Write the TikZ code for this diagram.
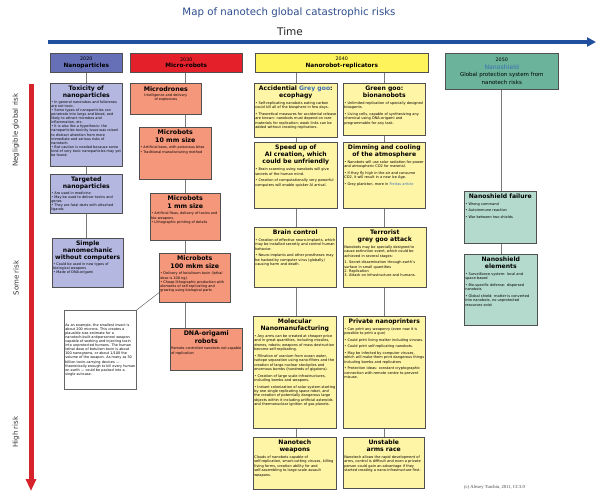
\documentclass[tikz,border=0pt]{standalone}
\usepackage{fontspec}
\setmainfont{DejaVu Sans}
\newfontfamily\serifcc{Liberation Serif}
\usetikzlibrary{arrows.meta,calc,shadows}

\definecolor{titleblue}{HTML}{2C4C8C}
\definecolor{arrowblue}{HTML}{1F4F9E}
\definecolor{riskred}{HTML}{D6222A}
\definecolor{hA}{HTML}{6670B6}
\definecolor{fA}{HTML}{B4B7E0}
\definecolor{hB}{HTML}{E4202B}
\definecolor{fB}{HTML}{F4977B}
\definecolor{hC}{HTML}{FFF35B}
\definecolor{fC}{HTML}{FFF5A6}
\definecolor{hD}{HTML}{6BB39A}
\definecolor{fD}{HTML}{B3DACC}
\definecolor{edge}{HTML}{505050}
\definecolor{linkgray}{HTML}{7A7A7A}
\definecolor{goo}{HTML}{3A6EB5}

\newcommand{\tsz}{\fontsize{6.1}{7.2}\selectfont\bfseries}
\newcommand{\tszb}{\fontsize{6.3}{7.8}\selectfont\bfseries}
\newcommand{\bsz}{\mdseries\fontsize{3.55}{4.4}\selectfont}
\newcommand{\bszs}{\mdseries\fontsize{3.45}{4.1}\selectfont}
\newcommand{\bul}{\par\vspace{2.2pt}\textbullet\ }
\newcommand{\bulc}{\par\textbullet\ }
% width, height, title, body
\newcommand{\cbox}[4]{\parbox[c][#2pt][t]{\dimexpr#1pt-2pt\relax}{\vspace*{2.5pt}\centering\tsz #3\par\vspace{2.5pt}\raggedright\bsz #4\par}}
\newcommand{\cboxs}[4]{\parbox[c][#2pt][t]{\dimexpr#1pt-2pt\relax}{\vspace*{2.5pt}\centering\tsz #3\par\vspace{1.5pt}\raggedright\bszs #4\par}}
\newcommand{\cboxb}[4]{\parbox[c][#2pt][t]{\dimexpr#1pt-2pt\relax}{\vspace*{2.5pt}\centering\tszb #3\par\vspace{2.5pt}\raggedright\bszs #4\par}}

\begin{document}
\begin{tikzpicture}[x=1pt,y=-1pt,
  box/.style={draw=edge, line width=0.6pt, inner xsep=1pt, inner ysep=0pt, anchor=north west,
    drop shadow={shadow xshift=0.8pt, shadow yshift=-0.8pt, opacity=0.55}},
  hdr/.style={draw=edge, line width=0.6pt, inner sep=0pt, anchor=north west, align=center,
    font=\fontsize{5.8}{6.6}\selectfont,
    drop shadow={shadow xshift=0.8pt, shadow yshift=-0.8pt, opacity=0.55}},
  conn/.style={draw=linkgray, line width=0.8pt},
  side/.style={rotate=90, font=\fontsize{7}{8}\selectfont, text=black!80},
  ]
\useasboundingbox[fill=white] (0,0) rectangle (600,496);

% title and time axis
\node[text=titleblue, font=\fontsize{10.2}{11}\selectfont] (title) at (289,13) {Map of nanotech global catastrophic risks};
\node[font=\fontsize{10.5}{12}\selectfont, text=black!85] (time) at (290,32) {Time};
\coordinate (tA) at (48,42);
\coordinate (tB) at (596,42);
\draw[arrowblue, line width=4.5pt, -{Triangle[length=9pt,width=9pt]}] (tA) -- (tB);

% risk axis
\coordinate (rA) at (31,84);
\coordinate (rB) at (31,491);
\draw[riskred, line width=5pt, -{Triangle[length=12pt,width=10pt]}] (rA) -- (rB);
\node[side] (lneg) at (16,130) {Negligible global risk};
\node[side] (lsome) at (16,278) {Some risk};
\node[side] (lhigh) at (16,432) {High risk};

% headers
\node[hdr, fill=hA, minimum width=72, minimum height=19] (h2020) at (50,53)
  {{\fontsize{4.8}{5.6}\selectfont 2020}\\{\bfseries Nanoparticles}};
\node[hdr, fill=hB, minimum width=112, minimum height=19] (h2030) at (130,53)
  {{\fontsize{4.8}{5.6}\selectfont 2030}\\{\bfseries Micro-robots}};
\node[hdr, fill=hC, minimum width=173, minimum height=19] (h2040) at (255,53)
  {{\fontsize{4.8}{5.6}\selectfont 2040}\\{\bfseries Nanorobot-replicators}};
\node[hdr, fill=hD, minimum width=113, minimum height=36, font=\fontsize{5.5}{7.6}\selectfont] (h2050) at (445,53)
  {{\fontsize{4.8}{5.6}\selectfont 2050}\\{\fontsize{6.2}{7}\selectfont\color{goo}Nanoshield}\\Global protection system from\\nanotech risks};

% column 2020
\node[box, fill=fA] (tox) at (50,83) {\cboxs{72}{83}{Toxicity of\\nanoparticles}{%
\textbullet\ In general nanotubes and fullerenes are not toxic.
\bulc Some types of nanoparticles can penetrate into lungs and blood, and likely to attract microbes and inflammation, etc.
\bulc It is also like a hypothesis: the nanoparticles toxicity issue was raised to distract attention from more immediate and serious risks of nanotech.
\bulc But caution is needed because some kind of very toxic nanoparticles may yet be found.}};
\node[box, fill=fA] (targ) at (50,174) {\cboxs{72}{39}{Targeted\\nanoparticles}{%
\textbullet\ Are used in medicine
\bulc May be used to deliver toxins and genes
\bulc They are fatal darts with attached ligands}};
\node[box, fill=fA] (simple) at (52,238) {\cboxs{71}{49}{Simple\\nanomechanic\\without computers}{%
\textbullet\ Could be used in new types of biological weapons
\bulc Made of DNA-origami}};
\node[box, fill=white, draw=black!60] (note) at (64,310) {\parbox[c][79pt][c]{70pt}{\raggedright\bszs
As an example, the smallest insect is about 200 microns. This creates a plausible size estimate for a nanotech-built antipersonnel weapon capable of seeking and injecting toxin into unprotected humans. The human lethal dose of botulism toxin is about 100 nanograms, or about 1/100 the volume of the weapon. As many as 50 billion toxin-carrying devices --- theoretically enough to kill every human on earth --- could be packed into a single suitcase.}};

% column 2030
\node[box, fill=fB] (drones) at (130,83) {\parbox[c][31pt][t]{69pt}{\vspace*{3pt}\centering\tszb Microdrones\par\vspace{1.5pt}\bszs Intelligence and delivery\\of explosives\par}};
\node[box, fill=fB] (mb10) at (139,127) {\cboxb{72}{52}{Microbots\\10 mm size}{%
\textbullet\ Artificial bees, with poisonous bites
\bulc Traditional manufacturing method}};
\node[box, fill=fB] (mb1) at (150,193) {\cboxb{70}{47}{Microbots\\1 mm size}{%
\textbullet\ Artificial fleas, delivery of toxins and bio-weapons.
\bulc Lithographic printing of details}};
\node[box, fill=fB] (mb100) at (159,253) {\cboxb{71}{49}{Microbots\\100 mkm size}{%
\textbullet\ Delivery of botulinum toxin (lethal dose is 100 ng).
\bulc Cheap lithographic production with elements of self-replicating and growing using biological parts}};
\node[box, fill=fB] (dna) at (170,328) {\cboxb{72}{42}{DNA-origami\\robots}{%
Remote controlled nanobots not capable of replication}};

% column 2040 left
\node[box, fill=fC] (grey) at (254,83) {\cbox{83}{54}{Accidential {\color{goo}Grey goo}:\\ecophagy}{%
\textbullet\ Self-replicating nanobots eating carbon could kill all of the biosphere in few days.
\bul Theoretical measures for accidental release are known: nanobots must depend on rare materials for replication; weak links can be added without creating replicators.}};
\node[box, fill=fC] (ai) at (254,142) {\cbox{83}{66}{Speed up of\\AI creation, which\\could be unfriendly}{%
\textbullet\ Brain scanning using nanobots will give secrets of the human mind.
\bul Creation of computationally very powerful computers will enable quicker AI arrival.}};
\node[box, fill=fC] (brain) at (254,227) {\cbox{82}{60}{Brain control}{%
\textbullet\ Creation of effective neuro-implants, which may be installed secretly and control human behavior.
\bul Neuro-implants and other prostheses may be hacked by computer virus (globally) causing harm and death.}};
\node[box, fill=fC] (mol) at (253,316) {\cbox{83}{112}{Molecular\\Nanomanufacturing}{%
\textbullet\ Any arms can be created at cheaper price and in great quantities, including missiles, drones, robots; weapons of mass destruction become self-replicating.
\bul Filtration of uranium from ocean water, isotope separation using nano-filters and the creation of large nuclear stockpiles and enormous bombs (hundreds of gigatons).
\bul Creation of large scale infrastructures, including bombs and weapons.
\bul Instant colonization of solar system starting by one single replicating space robot, and the creation of potentially dangerous large objects within it including artificial asteroids and thermonuclear ignition of gas planets.}};
\node[box, fill=fC] (weap) at (253,437) {\cbox{83}{52}{Nanotech\\weapons}{%
Clouds of nanobots capable of self-replication, smart-cutting viruses, killing living forms, creation ability for and self-assembling to large-scale assault weapons.}};

% column 2040 right
\node[box, fill=fC] (green) at (343,83) {\cbox{82}{52}{Green goo:\\bionanobots}{%
\textbullet\ Unlimited replication of specially designed bioagents.
\bul Living cells, capable of synthesizing any chemical using DNA-origami and programmable for any task.}};
\node[box, fill=fC] (dim) at (343,142) {\cbox{82}{66}{Dimming and cooling\\of the atmosphere}{%
\textbullet\ Nanobots will use solar radiation for power and atmospheric CO2 for material.
\bul If they fly high in the air and consume CO2, it will result in a new Ice Age.
\bul Grey plankton, more in {\color{goo}Freitas article}}};
\node[box, fill=fC] (terror) at (343,227) {\cbox{83}{60}{Terrorist\\grey goo attack}{%
Nanobots may be specially designed to cause extinction event, which could be achieved in several stages:\par\vspace{2pt}
1. Secret dissemination through earth's surface in small quantities\\
2. Replication\\
3. Attack on infrastructure and humans.}};
\node[box, fill=fC] (print) at (343,316) {\cbox{82}{112}{Private nanoprinters}{%
\textbullet\ Can print any weaponry (even now it is possible to print a gun)
\bul Could print living matter including viruses.
\bul Could print self-replicating nanobots.
\bul May be infected by computer viruses, which will make them print dangerous things including bombs and replicators
\bul Protection ideas: constant cryptographic connection with remote centre to prevent misuse.}};
\node[box, fill=fC] (arms) at (343,437) {\cbox{81}{51}{Unstable\\arms race}{%
Nanotech allows the rapid development of arms, control is difficult and even a private person could gain an advantage if they started creating a nano-infrastructure first.}};

% column 2050
\node[box, fill=fD] (fail) at (464,191) {\cbox{72}{52}{Nanoshield failure}{%
\textbullet\ Wrong command
\bul Autoimmune reaction
\bul War between two shields}};
\node[box, fill=fD] (elem) at (464,254) {\cbox{73}{71}{Nanoshield\\elements}{%
\textbullet\ Surveillance system: local and space-based
\bul Bio-specific defense: dispersed nanobots
\bul Global shield: matter is converted into nanobots, no unprotected resources exist}};

\node[anchor=west, inner sep=0pt, font=\serifcc\fontsize{4.6}{5}\selectfont, text=black!75] (copy) at (464,487) {(c) Alexey Turchin, 2011, CC3.0};

% connectors
\coordinate (xA) at (86,0);
\coordinate (xB) at (185,0);
\coordinate (xC) at (296,0);
\coordinate (xCC) at (384,0);
\coordinate (xD) at (501,0);
\draw[conn] (h2020.south -| xA) -- (tox.north -| xA);
\draw[conn] (tox.south -| xA) -- (targ.north -| xA);
\draw[conn] (targ.south -| xA) -- (simple.north -| xA);
\draw[conn] (h2030.south -| xB) -- (drones.north -| xB);
\draw[conn] (drones.south -| xB) -- (mb10.north -| xB);
\draw[conn] (mb10.south -| xB) -- (mb1.north -| xB);
\draw[conn] (mb1.south -| xB) -- (mb100.north -| xB);
\draw[conn] (mb100.south -| xB) -- (dna.north -| xB);
\draw[conn] (h2040.south -| xC) -- (grey.north -| xC);
\draw[conn] (grey.south -| xC) -- (ai.north -| xC);
\draw[conn] (ai.south -| xC) -- (brain.north -| xC);
\draw[conn] (brain.south -| xC) -- (mol.north -| xC);
\draw[conn] (mol.south -| xC) -- (weap.north -| xC);
\draw[conn] (h2040.south -| xCC) -- (green.north -| xCC);
\draw[conn] (green.south -| xCC) -- (dim.north -| xCC);
\draw[conn] (dim.south -| xCC) -- (terror.north -| xCC);
\draw[conn] (terror.south -| xCC) -- (print.north -| xCC);
\draw[conn] (print.south -| xCC) -- (arms.north -| xCC);
\draw[conn] (h2050.south -| xD) -- (fail.north -| xD);
\draw[conn] (fail.south -| xD) -- (elem.north -| xD);
\draw[draw=black!60, line width=0.5pt] (note.north east) -- ($(mb100.south west)!0.2!(mb100.north west)$);
\end{tikzpicture}
\end{document}
